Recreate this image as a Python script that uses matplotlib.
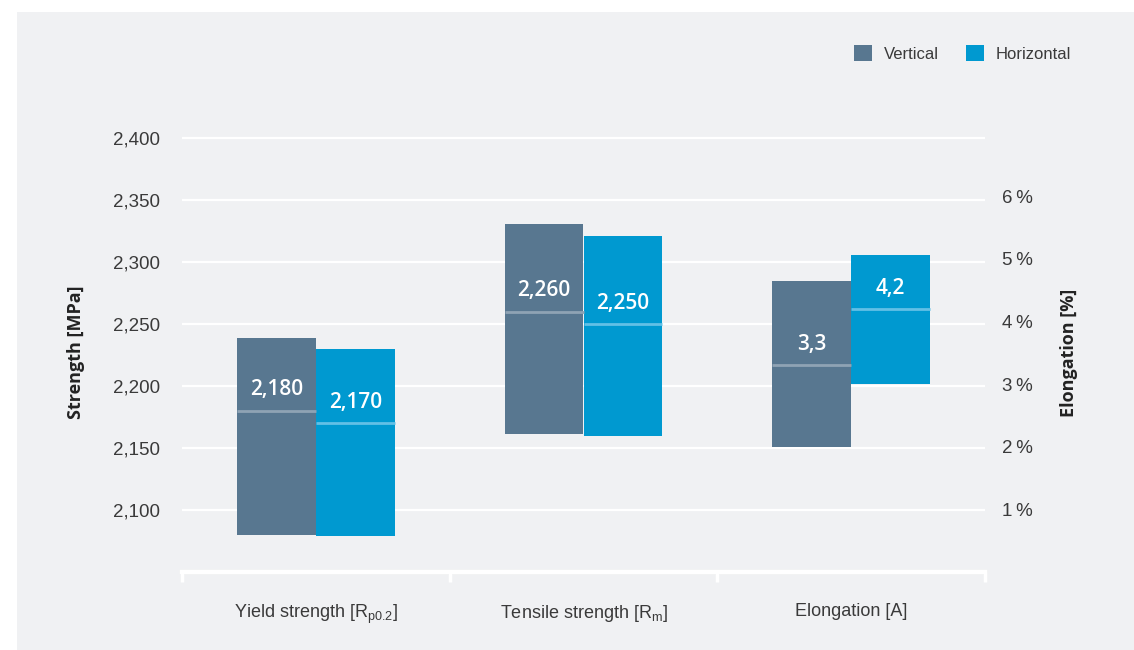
import matplotlib
matplotlib.use("Agg")
import matplotlib.pyplot as plt
from matplotlib.patches import Rectangle, Patch
import numpy as np

categories = ["Yield strength [R$_{\\mathregular{p0.2}}$]", "Tensile strength [R$_{\\mathregular{m}}$]", "Elongation [A]"]
series = ["Vertical", "Horizontal"]

# strength (MPa) for first two categories, elongation (%) for third
vertical_low = [2080, 2161, 2.0]
vertical_high = [2239, 2331, 4.64]
vertical_mid = [2180, 2260, 3.3]
horizontal_low = [2079, 2160, 3.0]
horizontal_high = [2230, 2321, 5.06]
horizontal_mid = [2170, 2250, 4.2]

strength_ticks = [2100, 2150, 2200, 2250, 2300, 2350, 2400]
elong_ticks = [1, 2, 3, 4, 5, 6]

bg = "#f0f1f3"
c_vert = "#587790"
c_horiz = "#0099d0"
c_vert_mid = "#8fa3b4"
c_horiz_mid = "#62c0e6"
txt = "#3a3a3a"

plt.rcParams["font.family"] = ["Liberation Sans", "DejaVu Sans"]

fig = plt.figure(figsize=(11.34, 6.5), dpi=100)
fig.patch.set_facecolor("white")
fig.patches.append(Rectangle((17 / 1134, 0), 1, 1 - 12 / 650, transform=fig.transFigure,
                             facecolor=bg, edgecolor="none", zorder=-10))

ax = fig.add_axes([182 / 1134, 78 / 650, 803 / 1134, 439 / 650])
ax.set_facecolor("none")
ax2 = ax.twinx()
ax2.set_facecolor("none")

ax.set_xlim(-0.5, 2.5)
ax.set_ylim(2050, 2404)
ax2.set_ylim(0, 7.01)

w = 0.295
x = np.arange(len(categories))


def fmt(v, is_pct):
    if is_pct:
        return f"{v:.1f}".replace(".", ",")
    return f"{v:,.0f}"


for i in range(len(categories)):
    target = ax2 if i == 2 else ax
    for lows, highs, mids, col, mcol, off in [
        (vertical_low, vertical_high, vertical_mid, c_vert, c_vert_mid, -w / 2),
        (horizontal_low, horizontal_high, horizontal_mid, c_horiz, c_horiz_mid, w / 2),
    ]:
        xc = x[i] + off
        target.bar(xc, highs[i] - lows[i], bottom=lows[i], width=w, color=col, zorder=2)
        target.hlines(mids[i], xc - w / 2, xc + w / 2, color=mcol, lw=2, zorder=3)
        target.annotate(fmt(mids[i], i == 2), (xc, mids[i]), xytext=(0, 15),
                        textcoords="offset points", ha="center", va="center",
                        color="white", fontsize=15, fontweight="semibold",
                        family=["Open Sans", "DejaVu Sans"], zorder=4)

# grid
ax.set_axisbelow(True)
ax.yaxis.grid(True, color="white", lw=1.6)
ax.set_yticks(strength_ticks)
ax.set_yticklabels([f"{t:,}" for t in strength_ticks])
ax.tick_params(axis="y", length=0, pad=16, labelsize=13.5, labelcolor=txt)

ax2.set_yticks(elong_ticks)
ax2.set_yticklabels([f"{t}\u2009%" for t in elong_ticks])
ax2.tick_params(axis="y", length=0, pad=12, labelsize=13.5, labelcolor=txt)

ax.set_xticks(x)
ax.set_xticklabels(categories)
ax.tick_params(axis="x", length=0, pad=22, labelsize=13, labelcolor=txt)
ax.set_xticks([-0.5, 0.5, 1.5, 2.5], minor=True)
ax.tick_params(axis="x", which="minor", length=7, width=2.5, color="white", direction="out")

for a in (ax, ax2):
    for s in ("top", "left", "right"):
        a.spines[s].set_visible(False)
    a.spines["bottom"].set_color("white")
    a.spines["bottom"].set_linewidth(3)

ax.set_ylabel("Strength [MPa]", fontsize=13, fontweight="bold", color="#222222",
              family=["Open Sans", "DejaVu Sans"], labelpad=20)
ax2.set_ylabel("Elongation [%]", fontsize=13, fontweight="bold", color="#222222",
               family=["Open Sans", "DejaVu Sans"], rotation=90, labelpad=20)

handles = [Patch(facecolor=c_vert), Patch(facecolor=c_horiz)]
fig.legend(handles, series, loc="upper right", bbox_to_anchor=(1086 / 1134, 1 - 30 / 650),
           ncol=2, frameon=False, fontsize=12, handlelength=1.1, handleheight=1.1,
           columnspacing=1.6, handletextpad=0.7, labelcolor=txt)

fig.savefig("out.png", dpi=100, facecolor="white")
